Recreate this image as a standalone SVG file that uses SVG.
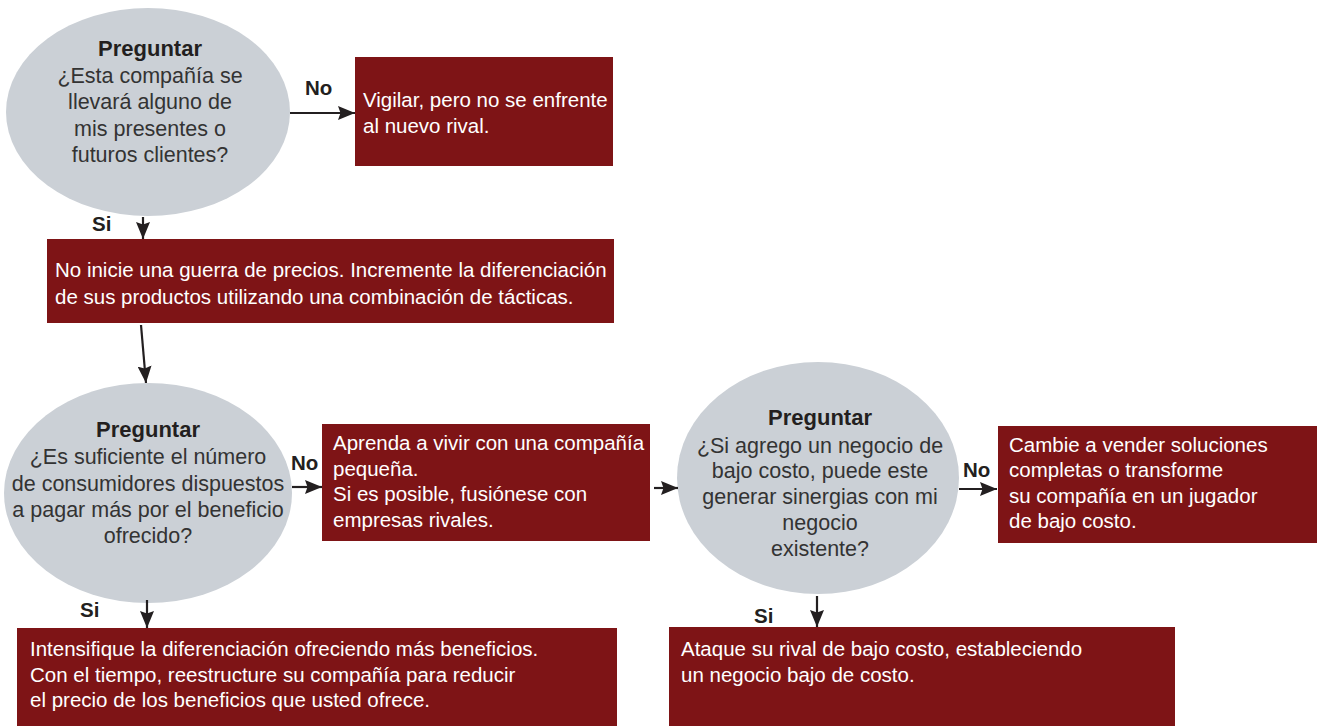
<svg xmlns="http://www.w3.org/2000/svg" width="1317" height="726" viewBox="0 0 1317 726">
<style>
.q{fill:#CBD0D6}
.b{fill:#7E1416}
.t{font-family:"Liberation Sans",Arial,sans-serif;font-size:20.5px}
.qt{fill:#333333;text-anchor:middle;font-size:21.5px}
.h{font-weight:bold;fill:#231F20;font-size:22px}
.bt{fill:#FFFFFF}
.lab{font-family:"Liberation Sans",Arial,sans-serif;font-size:20.5px;font-weight:bold;fill:#231F20}
.c{stroke:#231F20;stroke-width:2.2;fill:none}
</style>
<defs>
<marker id="ah" viewBox="0 0 17 14" refX="17" refY="7" markerWidth="17" markerHeight="14" markerUnits="userSpaceOnUse" orient="auto">
<path d="M0,0 L17,7 L0,14 L2.5,7 Z" fill="#231F20"/>
</marker>
</defs>
<rect width="1317" height="726" fill="#FFFFFF"/>

<g id="q1">
<ellipse class="q" cx="148" cy="112" rx="142" ry="104"/>
<text class="t h" x="150" y="56" text-anchor="middle">Preguntar</text>
<text class="t qt" x="150" y="83">¿Esta compañía se</text>
<text class="t qt" x="150" y="109">llevará alguno de</text>
<text class="t qt" x="150" y="136">mis presentes o</text>
<text class="t qt" x="150" y="162">futuros clientes?</text>
</g>

<g id="a1">
<rect class="b" x="355" y="57" width="258" height="109"/>
<text class="t bt" x="363" y="107">Vigilar, pero no se enfrente</text>
<text class="t bt" x="363" y="133">al nuevo rival.</text>
</g>

<g id="a2">
<rect class="b" x="47" y="239" width="567" height="84"/>
<text class="t bt" x="55" y="277">No inicie una guerra de precios. Incremente la diferenciación</text>
<text class="t bt" x="55" y="304">de sus productos utilizando una combinación de tácticas.</text>
</g>

<g id="q2">
<ellipse class="q" cx="148" cy="493" rx="144" ry="110"/>
<text class="t h" x="148" y="437" text-anchor="middle">Preguntar</text>
<text class="t qt" x="148" y="464">¿Es suficiente el número</text>
<text class="t qt" x="148" y="491">de consumidores dispuestos</text>
<text class="t qt" x="148" y="517">a pagar más por el beneficio</text>
<text class="t qt" x="148" y="543">ofrecido?</text>
</g>

<g id="a3">
<rect class="b" x="322" y="424" width="328" height="117"/>
<text class="t bt" x="333" y="450">Aprenda a vivir con una compañía</text>
<text class="t bt" x="333" y="476">pequeña.</text>
<text class="t bt" x="333" y="501">Si es posible, fusiónese con</text>
<text class="t bt" x="333" y="527">empresas rivales.</text>
</g>

<g id="q3">
<ellipse class="q" cx="818" cy="478" rx="141" ry="116"/>
<text class="t h" x="820" y="425" text-anchor="middle">Preguntar</text>
<text class="t qt" x="820" y="453">¿Si agrego un negocio de</text>
<text class="t qt" x="820" y="478">bajo costo, puede este</text>
<text class="t qt" x="820" y="504">generar sinergias con mi</text>
<text class="t qt" x="820" y="530">negocio</text>
<text class="t qt" x="820" y="556">existente?</text>
</g>

<g id="a4">
<rect class="b" x="998" y="426" width="319" height="117"/>
<text class="t bt" x="1009" y="452">Cambie a vender soluciones</text>
<text class="t bt" x="1009" y="477">completas o transforme</text>
<text class="t bt" x="1009" y="503">su compañía en un jugador</text>
<text class="t bt" x="1009" y="528">de bajo costo.</text>
</g>

<g id="a5">
<rect class="b" x="17" y="628" width="600" height="98"/>
<text class="t bt" x="30" y="656">Intensifique la diferenciación ofreciendo más beneficios.</text>
<text class="t bt" x="30" y="682">Con el tiempo, reestructure su compañía para reducir</text>
<text class="t bt" x="30" y="707">el precio de los beneficios que usted ofrece.</text>
</g>

<g id="a6">
<rect class="b" x="669" y="627" width="506" height="99"/>
<text class="t bt" x="681" y="656">Ataque su rival de bajo costo, estableciendo</text>
<text class="t bt" x="681" y="682">un negocio bajo de costo.</text>
</g>

<g id="connectors">
<line class="c" x1="290" y1="113" x2="355" y2="113" marker-end="url(#ah)"/>
<line class="c" x1="143" y1="217" x2="143" y2="239" marker-end="url(#ah)"/>
<line class="c" x1="141" y1="325" x2="146" y2="383" marker-end="url(#ah)"/>
<line class="c" x1="292" y1="487" x2="322" y2="487" marker-end="url(#ah)"/>
<line class="c" x1="654" y1="488" x2="678" y2="488" marker-end="url(#ah)"/>
<line class="c" x1="959" y1="489" x2="997" y2="489" marker-end="url(#ah)"/>
<line class="c" x1="147" y1="600" x2="147" y2="628" marker-end="url(#ah)"/>
<line class="c" x1="817" y1="596" x2="817" y2="627" marker-end="url(#ah)"/>
<text class="lab" x="305" y="95">No</text>
<text class="lab" x="92" y="231">Si</text>
<text class="lab" x="291" y="470">No</text>
<text class="lab" x="80" y="617">Si</text>
<text class="lab" x="963" y="477">No</text>
<text class="lab" x="754" y="623">Si</text>
</g>
</svg>
